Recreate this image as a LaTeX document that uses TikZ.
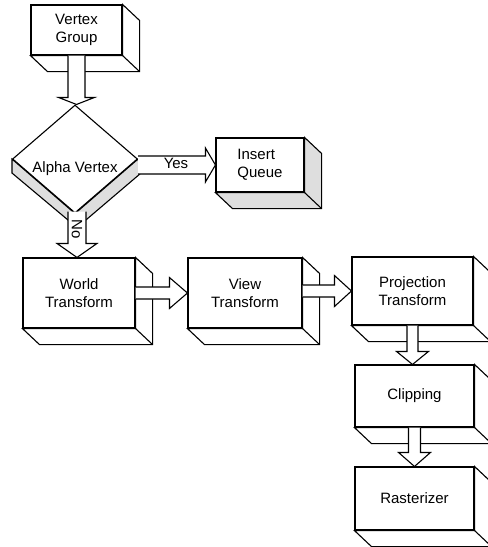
\documentclass[tikz,border=0pt]{standalone}
\usepackage{fontspec}
\setmainfont{Liberation Sans}
\usepackage{tikz}
\usetikzlibrary{shapes.geometric, calc}
\definecolor{facecolor}{RGB}{255,255,255}
\definecolor{shadecolor}{RGB}{222,222,222}

% side faces of a box: #1 node, #2 fill
\newcommand{\boxdepth}[2]{%
  \draw[face, fill=#2] (#1.north east) -- ++(17,16) -- ($(#1.south east)+(17,16)$) -- ($(#1.south west)+(17,16)$) -- (#1.south west) -- (#1.south east) -- cycle;
  \draw[face] (#1.south east) -- ++(17,16);}

% hollow arrows: #1 from, #2 to, #3 shaft half width, #4 head half width, #5 head length
\newcommand{\arrowdown}[5]{%
  \draw[blockarrow] ($(#1)+(-#3,0)$) -- ($(#1 |- #2)+(-#3,-#5)$) -- ($(#1 |- #2)+(-#4,-#5)$) -- (#1 |- #2) -- ($(#1 |- #2)+(#4,-#5)$) -- ($(#1 |- #2)+(#3,-#5)$) -- ($(#1)+(#3,0)$);}
\newcommand{\arrowright}[5]{%
  \draw[blockarrow] ($(#1 |- #2)+(0,-#3)$) -- ($(#2)+(-#5,-#3)$) -- ($(#2)+(-#5,-#4)$) -- (#2) -- ($(#2)+(-#5,#4)$) -- ($(#2)+(-#5,#3)$) -- ($(#1 |- #2)+(0,#3)$);}

\begin{document}
\begin{tikzpicture}[
    x=1pt, y=-1pt,
    block/.style={draw, fill=facecolor, line width=1.1pt, align=center, inner sep=0pt, font=\fontsize{15}{18}\selectfont},
    decision/.style={draw, fill=facecolor, diamond, line width=1.1pt, inner sep=0pt, minimum width=125pt, minimum height=108pt, font=\fontsize{15}{18}\selectfont},
    face/.style={line width=1.1pt, line join=miter},
    blockarrow/.style={draw, fill=white, line width=1.1pt, line join=miter},
    tag/.style={font=\fontsize{15}{18}\selectfont, inner sep=0pt}
]
    \useasboundingbox (0,0) rectangle (488,547);

    % Input
    \node[block, minimum width=91pt, minimum height=50pt] (vertex) at (76.5,30) {Vertex\\Group};
    \node[decision] (alpha) at (75,159) {\raisebox{-13pt}[0pt][0pt]{Alpha Vertex}};
    \node[block, align=left, minimum width=88pt, minimum height=54pt] (insert) at (260,165) {Insert\\Queue};

    % Pipeline
    \node[block, minimum width=112pt, minimum height=70pt] (world) at (79,293) {World\\Transform};
    \node[block, minimum width=114pt, minimum height=70pt] (view) at (245,293) {View\\Transform};
    \node[block, minimum width=121pt, minimum height=68pt] (proj) at (412.5,291) {Projection\\Transform};
    \node[block, minimum width=119pt, minimum height=62pt] (clip) at (414.5,396) {Clipping};
    \node[block, minimum width=119pt, minimum height=63pt] (rast) at (414.5,498.5) {Rasterizer};

    % Depth
    \foreach \n in {vertex, world, view, proj, clip, rast}
        \boxdepth{\n}{facecolor};
    \boxdepth{insert}{shadecolor}
    \draw[face, fill=shadecolor] (alpha.west) -- ++(0,14) -- ($(alpha.south)+(2,14)$) -- ($(alpha.east)+(3,14)$) -- (alpha.east) -- (alpha.south) -- cycle;

    % Arrows
    \coordinate (nofrom) at ($(alpha.south)+(2,-2)$);
    \arrowdown{vertex.south}{alpha.north}{8.5}{18}{7}
    \arrowdown{nofrom}{world.north}{9}{20}{14}
    \arrowright{alpha.east}{insert.west}{9}{17}{10}
    \arrowright{world.east}{view.west}{6}{15.5}{18}
    \arrowright{view.east}{proj.west}{6}{15.5}{17}
    \arrowdown{proj.south}{clip.north}{5.5}{16}{13}
    \arrowdown{clip.south}{rast.north}{6}{16}{14}

    % Labels
    \node[tag] (yes) at (176,163) {Yes};
    \node[tag, rotate=-90] (no) at (77,229) {No};
\end{tikzpicture}
\end{document}
